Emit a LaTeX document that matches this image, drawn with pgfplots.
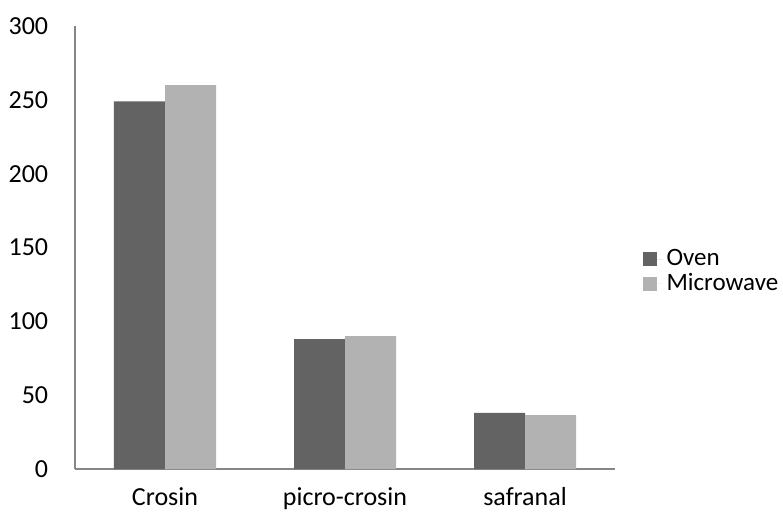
\documentclass[border=0pt]{standalone}
\usepackage{fontspec}
\setmainfont{Carlito}
\usepackage{pgfplots}
\pgfplotsset{compat=1.18}
\definecolor{oven}{HTML}{636363}
\definecolor{micro}{HTML}{B2B2B2}
\definecolor{axgray}{HTML}{868686}
\begin{document}
\fontsize{26}{30}\selectfont
\begin{tikzpicture}
\path[use as bounding box] (-75pt,-43pt) rectangle (708pt,469pt);
\begin{axis}[
  at={(0pt,0pt)}, anchor=south west,
  scale only axis, width=540pt, height=443pt,
  xmin=-0.5, xmax=2.5, ymin=0, ymax=300,
  ytick={0,50,...,300},
  xtick={0,1,2}, xticklabels={Crosin,picro-crosin,safranal},
  axis x line=bottom, axis y line=left,
  axis line style={-, draw=axgray, line width=1.3pt},
  major tick length=0pt,
  ybar=0pt, bar width=51pt,
  /pgf/number format/assume math mode=true,
  tick label style={font=\fontsize{26}{30}\selectfont},
  yticklabel style={xshift=-18pt},
  xticklabel style={yshift=-10pt},
  legend style={draw=none, fill=none, at={(1.045,0.445)}, anchor=west,
    font=\fontsize{25}{30}\selectfont, row sep=0pt},
  legend cell align=left,
  legend image code/.code={\path (0pt,0pt) -- (20pt,0pt);\fill[#1] (0pt,-7pt) rectangle (14pt,7pt);},
  legend style={nodes={inner xsep=4pt}},
]
\addplot[draw=none, fill=oven] coordinates {(0,249) (1,88) (2,38)};
\addplot[draw=none, fill=micro] coordinates {(0,260) (1,90) (2,36.5)};
\legend{Oven,Microwave}
\end{axis}
\end{tikzpicture}
\end{document}
